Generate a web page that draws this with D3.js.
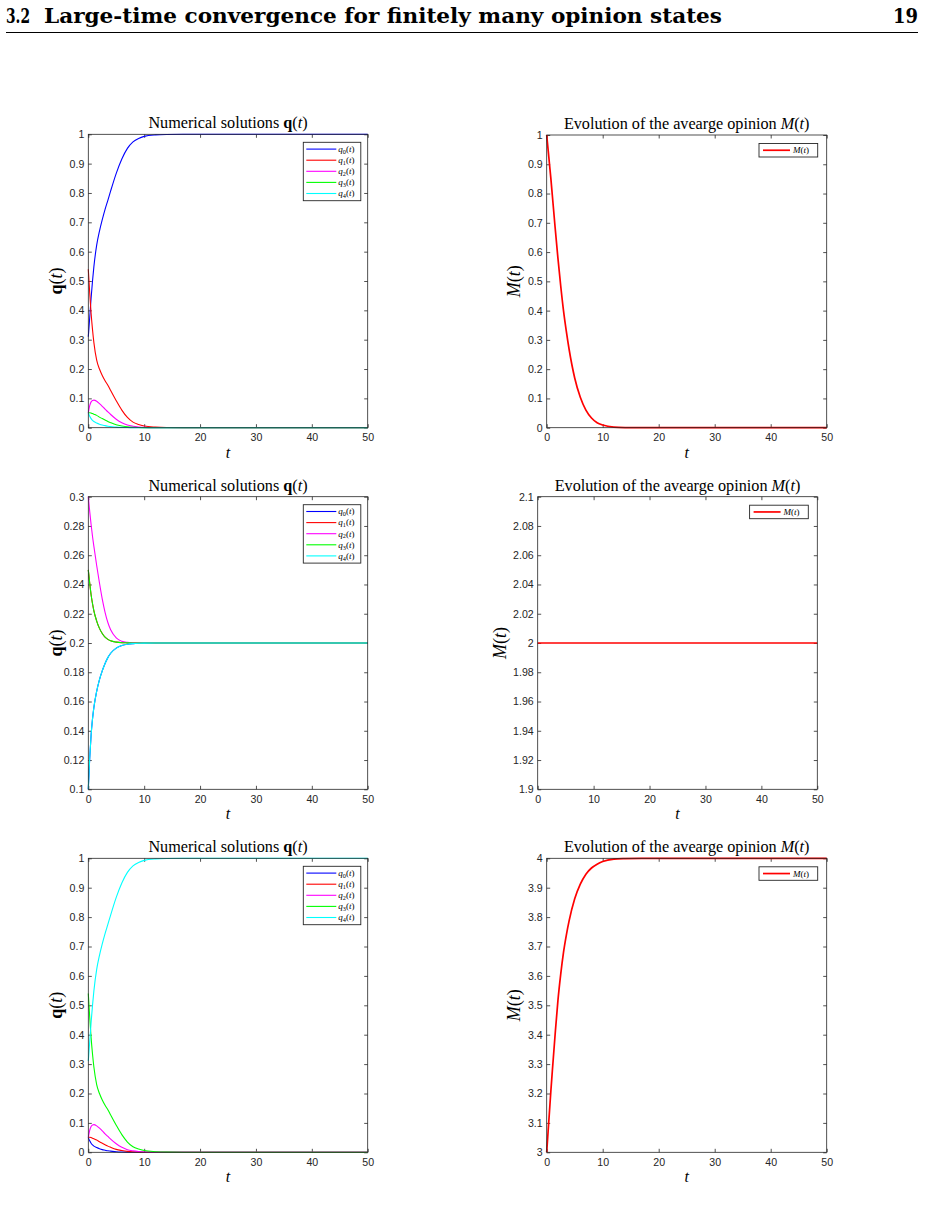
<!DOCTYPE html>
<html><head><meta charset="utf-8">
<script src="https://cdn.jsdelivr.net/npm/d3@7"></script>
<style>body{margin:0;background:#fff} svg{display:block}</style>
</head><body>
<svg id="c" width="926" height="1215"></svg>
<script>
// ---------- data ----------
const T = [0,0.25,0.5,0.75,1,1.5,2,2.5,3,3.5,4,5,6,7,8,9,10,12,14,17,20,30,40,50];

// panel 1 (top-left)
const p1_q0 = [0.31,0.375,0.441,0.499,0.549,0.622,0.67,0.709,0.744,0.775,0.807,0.867,0.916,0.952,0.974,0.986,0.993,0.998,0.9995,1,1,1,1,1];
const p1_q1 = [0.54,0.46,0.39,0.335,0.29,0.23,0.2,0.178,0.16,0.145,0.127,0.092,0.06,0.035,0.019,0.011,0.006,0.002,0.0005,0,0,0,0,0];
const p1_q2 = [0.05,0.075,0.088,0.093,0.094,0.09,0.082,0.073,0.063,0.054,0.045,0.029,0.017,0.009,0.005,0.0025,0.001,0.0002,0,0,0,0,0,0];
const p1_q3 = [0.05,0.051,0.05,0.048,0.046,0.042,0.036,0.031,0.026,0.021,0.017,0.01,0.006,0.003,0.0015,0.0007,0.0003,0,0,0,0,0,0,0];
const p1_q4 = [0.05,0.039,0.031,0.025,0.021,0.016,0.012,0.009,0.007,0.005,0.004,0.002,0.001,0.0005,0.0002,0,0,0,0,0,0,0,0,0];

// panel 2 (top-right)
const p2_M = [1,0.95,0.9,0.85,0.795,0.685,0.58,0.485,0.4,0.33,0.268,0.17,0.104,0.06,0.033,0.017,0.009,0.002,0.0005,0,0,0,0,0];

// panel 3 (middle-left)
const p3_q0 = [0.1,0.121,0.137,0.148,0.156,0.167,0.175,0.181,0.186,0.19,0.193,0.1965,0.1983,0.1992,0.1996,0.1998,0.1999,0.2,0.2,0.2,0.2,0.2,0.2,0.2];
const p3_q1 = [0.25,0.241,0.233,0.227,0.222,0.215,0.21,0.2065,0.204,0.2025,0.2015,0.2006,0.2002,0.2001,0.2,0.2,0.2,0.2,0.2,0.2,0.2,0.2,0.2,0.2];
const p3_q2 = [0.3,0.29,0.281,0.273,0.266,0.253,0.241,0.23,0.221,0.214,0.209,0.2035,0.2012,0.2004,0.2001,0.2,0.2,0.2,0.2,0.2,0.2,0.2,0.2,0.2];
const p3_q3 = [0.25,0.241,0.233,0.227,0.222,0.215,0.21,0.2065,0.204,0.2025,0.2015,0.2006,0.2002,0.2001,0.2,0.2,0.2,0.2,0.2,0.2,0.2,0.2,0.2,0.2];
const p3_q4 = [0.1,0.121,0.137,0.148,0.156,0.167,0.175,0.181,0.186,0.19,0.193,0.1965,0.1983,0.1992,0.1996,0.1998,0.1999,0.2,0.2,0.2,0.2,0.2,0.2,0.2];

// panel 4 (middle-right)
const p4_M = [2,2,2,2,2,2,2,2,2,2,2,2,2,2,2,2,2,2,2,2,2,2,2,2];

// panel 5 (bottom-left)
const p5_q0 = [0.05,0.039,0.031,0.025,0.021,0.016,0.012,0.009,0.007,0.005,0.004,0.002,0.001,0.0005,0.0002,0,0,0,0,0,0,0,0,0];
const p5_q1 = [0.05,0.051,0.05,0.048,0.046,0.042,0.036,0.031,0.026,0.021,0.017,0.01,0.006,0.003,0.0015,0.0007,0.0003,0,0,0,0,0,0,0];
const p5_q2 = [0.05,0.075,0.088,0.093,0.094,0.09,0.082,0.073,0.063,0.054,0.045,0.029,0.017,0.009,0.005,0.0025,0.001,0.0002,0,0,0,0,0,0];
const p5_q3 = [0.54,0.46,0.39,0.335,0.29,0.23,0.2,0.178,0.16,0.145,0.127,0.092,0.06,0.035,0.019,0.011,0.006,0.002,0.0005,0,0,0,0,0];
const p5_q4 = [0.31,0.375,0.441,0.499,0.549,0.622,0.67,0.709,0.744,0.775,0.807,0.867,0.916,0.952,0.974,0.986,0.993,0.998,0.9995,1,1,1,1,1];

// panel 6 (bottom-right)
const p6_M = [3,3.07,3.14,3.21,3.275,3.4,3.515,3.605,3.68,3.738,3.787,3.862,3.912,3.946,3.967,3.98,3.989,3.997,3.999,4,4,4,4,4];

// ticks
const xTicks = [0,10,20,30,40,50];
const xTickLabels = ["0","10","20","30","40","50"];
const yTicksA = [0,0.1,0.2,0.3,0.4,0.5,0.6,0.7,0.8,0.9,1];
const yTickLabelsA = ["0","0.1","0.2","0.3","0.4","0.5","0.6","0.7","0.8","0.9","1"];
const yTicksB = [0.1,0.12,0.14,0.16,0.18,0.2,0.22,0.24,0.26,0.28,0.3];
const yTickLabelsB = ["0.1","0.12","0.14","0.16","0.18","0.2","0.22","0.24","0.26","0.28","0.3"];
const yTicksC = [1.9,1.92,1.94,1.96,1.98,2,2.02,2.04,2.06,2.08,2.1];
const yTickLabelsC = ["1.9","1.92","1.94","1.96","1.98","2","2.02","2.04","2.06","2.08","2.1"];
const yTicksD = [3,3.1,3.2,3.3,3.4,3.5,3.6,3.7,3.8,3.9,4];
const yTickLabelsD = ["3","3.1","3.2","3.3","3.4","3.5","3.6","3.7","3.8","3.9","4"];

const qColors = ["#0000ff","#ff0000","#ff00ff","#00ff00","#00ffff"];
const mColor = "#ff0000";

// ---------- layout ----------
const panels = [
  {x0:88.3,x1:367.7,y0:134.3,y1:427.7, dom:[0,1], yt:yTicksA, ytl:yTickLabelsA, kind:"q", data:[p1_q0,p1_q1,p1_q2,p1_q3,p1_q4], ylo:26},
  {x0:546.7,x1:826.7,y0:135,y1:427.7, dom:[0,1], yt:yTicksA, ytl:yTickLabelsA, kind:"M", data:[p2_M], ylo:26.5},
  {x0:88.3,x1:367.7,y0:496.7,y1:789.3, dom:[0.1,0.3], yt:yTicksB, ytl:yTickLabelsB, kind:"q", data:[p3_q0,p3_q1,p3_q2,p3_q3,p3_q4], ylo:26},
  {x0:537.7,x1:817.3,y0:496.7,y1:789.3, dom:[1.9,2.1], yt:yTicksC, ytl:yTickLabelsC, kind:"M", data:[p4_M], ylo:31.5},
  {x0:88.3,x1:367.7,y0:858.3,y1:1152.3, dom:[0,1], yt:yTicksA, ytl:yTickLabelsA, kind:"q", data:[p5_q0,p5_q1,p5_q2,p5_q3,p5_q4], ylo:26},
  {x0:546.7,x1:826.7,y0:858.3,y1:1152.3, dom:[3,4], yt:yTicksD, ytl:yTickLabelsD, kind:"M", data:[p6_M], ylo:26.5}
];

const svg = d3.select("#c");
const AX = "#262626";
const SERIF = "'Liberation Serif','Times New Roman',serif";
const SANS = "'Liberation Sans',Arial,Helvetica,sans-serif";

// ---------- header ----------
const hdr = svg.append("g").attr("font-family","'DejaVu Serif',serif").attr("font-weight","bold").attr("font-size",20).attr("fill","#000");
hdr.append("text").attr("x",6).attr("y",23).attr("textLength",24).attr("lengthAdjust","spacingAndGlyphs").text("3.2");
hdr.append("text").attr("x",44).attr("y",23).attr("textLength",678).attr("lengthAdjust","spacingAndGlyphs").text("Large-time convergence for finitely many opinion states");
hdr.append("text").attr("x",893).attr("y",23).attr("textLength",25).attr("lengthAdjust","spacingAndGlyphs").text("19");
svg.append("line").attr("x1",6).attr("x2",918).attr("y1",32.5).attr("y2",32.5).attr("stroke","#000").attr("stroke-width",1);

function qText(sel, idx, size){
  sel.append("tspan").attr("font-style","italic").text("q");
  sel.append("tspan").attr("font-size",size*0.7).attr("dy",size*0.22).text(idx);
  sel.append("tspan").attr("dy",-size*0.22).text("(");
  sel.append("tspan").attr("font-style","italic").text("t");
  sel.append("tspan").text(")");
}
function mText(sel){
  sel.append("tspan").attr("font-style","italic").text("M");
  sel.append("tspan").text("(");
  sel.append("tspan").attr("font-style","italic").text("t");
  sel.append("tspan").text(")");
}

panels.forEach((p,pi)=>{
  const g = svg.append("g");
  const x = d3.scaleLinear().domain([0,50]).range([p.x0,p.x1]);
  const y = d3.scaleLinear().domain(p.dom).range([p.y1,p.y0]);
  const TS = 3.5;

  // axes
  const left = g.append("g").attr("transform",`translate(${p.x0},0)`)
    .call(d3.axisLeft(y).tickValues(p.yt).tickFormat((d,i)=>p.ytl[i]).tickSizeInner(-TS).tickSizeOuter(0).tickPadding(4));
  const right = g.append("g").attr("transform",`translate(${p.x1},0)`)
    .call(d3.axisRight(y).tickValues(p.yt).tickFormat("").tickSizeInner(-TS).tickSizeOuter(0));
  const bottom = g.append("g").attr("transform",`translate(0,${p.y1})`)
    .call(d3.axisBottom(x).tickValues(xTicks).tickFormat((d,i)=>xTickLabels[i]).tickSizeInner(-TS).tickSizeOuter(0).tickPadding(6));
  const top = g.append("g").attr("transform",`translate(0,${p.y0})`)
    .call(d3.axisTop(x).tickValues(xTicks).tickFormat("").tickSizeInner(-TS).tickSizeOuter(0));
  [left,right,bottom,top].forEach(a=>{
    a.select(".domain").remove();
    a.selectAll(".tick line").attr("stroke",AX).attr("stroke-width",0.8);
    a.selectAll(".tick text").attr("fill",AX).attr("font-family",SANS).attr("font-size",10.6);
  });

  // curves
  const line = d3.line().x((d,i)=>x(T[i])).y(d=>y(d)).curve(d3.curveMonotoneX);
  p.data.forEach((arr,si)=>{
    g.append("path").datum(arr).attr("d",line).attr("fill","none")
      .attr("stroke", p.kind==="q" ? qColors[si] : mColor)
      .attr("stroke-width", p.kind==="q" ? 1.1 : 1.7)
      .attr("stroke-linejoin","round");
  });

  // box
  g.append("rect").attr("x",p.x0).attr("y",p.y0).attr("width",p.x1-p.x0).attr("height",p.y1-p.y0)
    .attr("fill","none").attr("stroke",AX).attr("stroke-width",0.8);

  // title
  const cx = (p.x0+p.x1)/2;
  const tt = g.append("text").attr("x",cx).attr("y",p.y0-6).attr("text-anchor","middle")
    .attr("font-family",SERIF).attr("font-size",16.2).attr("fill","#000");
  if(p.kind==="q"){
    tt.append("tspan").text("Numerical solutions ");
    tt.append("tspan").attr("font-weight","bold").text("q");
    tt.append("tspan").text("(");
    tt.append("tspan").attr("font-style","italic").text("t");
    tt.append("tspan").text(")");
  } else {
    tt.append("tspan").text("Evolution of the avearge opinion ");
    mText(tt);
  }

  // x label
  g.append("text").attr("x",cx).attr("y",p.y1+30).attr("text-anchor","middle")
    .attr("font-family",SERIF).attr("font-style","italic").attr("font-size",16).attr("fill","#000").text("t");

  // y label
  const cy = (p.y0+p.y1)/2;
  const yl = g.append("text").attr("transform",`translate(${p.x0-p.ylo},${cy}) rotate(-90)`)
    .attr("text-anchor","middle").attr("font-family",SERIF).attr("font-size",18).attr("fill","#000");
  if(p.kind==="q"){
    yl.append("tspan").attr("font-weight","bold").text("q");
    yl.append("tspan").text("(");
    yl.append("tspan").attr("font-style","italic").text("t");
    yl.append("tspan").text(")");
  } else {
    mText(yl);
  }

  // legend
  if(p.kind==="q"){
    const bw = 57.5, bh = 58.4;
    const bx = p.x1-64.4, by = p.y0+8;
    g.append("rect").attr("x",bx).attr("y",by).attr("width",bw).attr("height",bh)
      .attr("fill","#fff").attr("stroke",AX).attr("stroke-width",0.9);
    qColors.forEach((c,i)=>{
      const ry = p.y0+14.8+i*11.1;
      g.append("line").attr("x1",bx+3).attr("x2",bx+33).attr("y1",ry).attr("y2",ry)
        .attr("stroke",c).attr("stroke-width",1.1);
      const lt = g.append("text").attr("x",bx+35).attr("y",ry+2.8)
        .attr("font-family",SERIF).attr("font-size",9).attr("fill","#000");
      qText(lt, String(i), 9);
    });
  } else {
    const bw = 58.7, bh = 13.5;
    const bx = p.x1-9-bw, by = p.y0+8.5;
    g.append("rect").attr("x",bx).attr("y",by).attr("width",bw).attr("height",bh)
      .attr("fill","#fff").attr("stroke",AX).attr("stroke-width",0.9);
    const ry = by+bh/2;
    g.append("line").attr("x1",bx+4).attr("x2",bx+31).attr("y1",ry).attr("y2",ry)
      .attr("stroke",mColor).attr("stroke-width",1.7);
    const lt = g.append("text").attr("x",bx+34).attr("y",ry+3)
      .attr("font-family",SERIF).attr("font-size",9).attr("fill","#000");
    mText(lt);
  }
});
</script>
</body></html>
